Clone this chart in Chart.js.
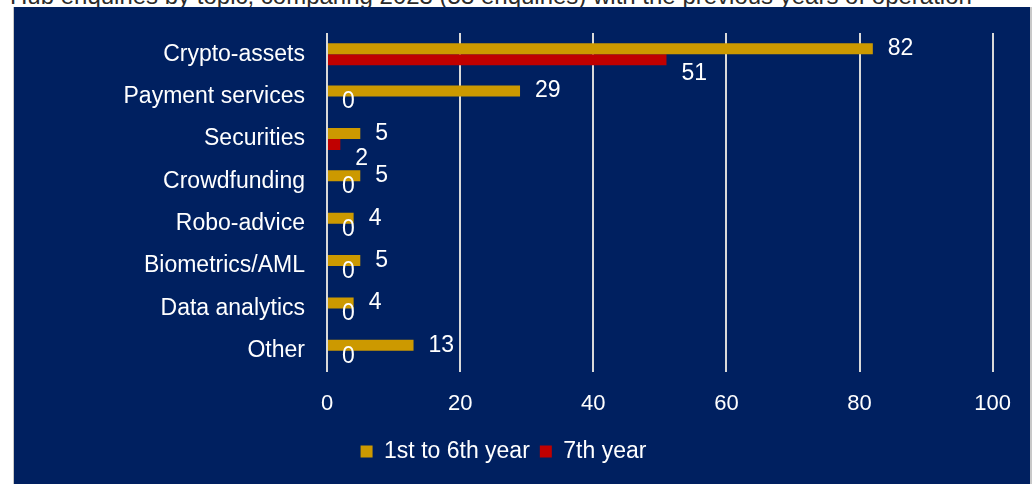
<!DOCTYPE html>
<html>
<head>
<meta charset="utf-8">
<title>Hub enquiries by topic</title>
<script src="https://cdn.jsdelivr.net/npm/chart.js@4.4.1/dist/chart.umd.min.js"></script>
<style>
  html, body { margin: 0; padding: 0; background: #fff; overflow: hidden; }
  body { width: 1035px; height: 484px; position: relative; font-family: "Liberation Sans", Arial, sans-serif; }
  #title { position: absolute; left: 10px; top: -15px; font-size: 24px; line-height: 22px; color: #2b2b2b; white-space: nowrap; }
  #box { position: absolute; left: 13px; top: 7px; width: 1016px; height: 480px; background: #002060; border-left: 1px solid #c8c8c8; border-right: 2px solid #c8c8c8; }
  canvas { display: block; }
</style>
</head>
<body>
<div id="title">Hub enquiries by topic, comparing 2023 (53 enquiries) with the previous years of operation</div>
<div id="box"><canvas id="myChart" width="1016" height="477"></canvas></div>
<script>
const categories = ['Crypto-assets', 'Payment services', 'Securities', 'Crowdfunding', 'Robo-advice', 'Biometrics/AML', 'Data analytics', 'Other'];
const firstSixYears = [82, 29, 5, 5, 4, 5, 4, 13];
const seventhYear = [51, 0, 2, 0, 0, 0, 0, 0];
const xTicks = [0, 20, 40, 60, 80, 100];

const FONT = '"Liberation Sans", Arial, sans-serif';

// value labels next to each bar end, red ones nudged down like the original
const barLabels = {
  id: 'barLabels',
  afterDatasetsDraw(chart) {
    const ctx = chart.ctx;
    ctx.save();
    ctx.fillStyle = '#ffffff';
    ctx.font = '23px ' + FONT;
    ctx.textAlign = 'left';
    ctx.textBaseline = 'middle';
    chart.data.datasets.forEach((ds, i) => {
      const meta = chart.getDatasetMeta(i);
      meta.data.forEach((bar, j) => {
        const v = ds.data[j];
        const dy = (i === 1 && v > 0) ? 14 : 0;
        ctx.fillText(String(v), bar.x + 15, bar.y + dy);
      });
    });
    ctx.restore();
  }
};

const ctx = document.getElementById('myChart').getContext('2d');
const chart = new Chart(ctx, {
  type: 'bar',
  data: {
    labels: categories,
    datasets: [{
      label: '1st to 6th year',
      data: firstSixYears,
      backgroundColor: '#cc9900',
      categoryPercentage: 0.52,
      barPercentage: 1
    }, {
      label: '7th year',
      data: seventhYear,
      backgroundColor: '#c00000',
      categoryPercentage: 0.52,
      barPercentage: 1
    }]
  },
  options: {
    indexAxis: 'y',
    responsive: false,
    animation: false,
    layout: { padding: { top: 26, right: 37, left: 0, bottom: 11 } },
    scales: {
      x: {
        min: 0,
        max: 100,
        afterBuildTicks: (scale) => { scale.ticks = xTicks.map(v => ({ value: v })); },
        grid: { color: '#d9d9d9', lineWidth: 2, drawTicks: false },
        border: { display: false },
        ticks: { color: '#ffffff', font: { size: 22, family: FONT }, padding: 19, maxRotation: 0 },
        afterFit: (scale) => { scale.height = 58; }
      },
      y: {
        grid: { display: false, drawTicks: false },
        border: { display: false },
        ticks: { color: '#ffffff', font: { size: 23, family: FONT }, padding: 22 },
        afterFit: (scale) => {
          scale.width = 313;
          scale.paddingTop = 0;
          scale.paddingBottom = 0;
        }
      }
    },
    plugins: {
      legend: {
        position: 'bottom',
        labels: {
          color: '#ffffff',
          font: { size: 23, family: FONT },
          boxWidth: 12,
          boxHeight: 12,
          padding: 10
        }
      },
      tooltip: { enabled: false }
    }
  },
  plugins: [barLabels]
});
</script>
</body>
</html>
